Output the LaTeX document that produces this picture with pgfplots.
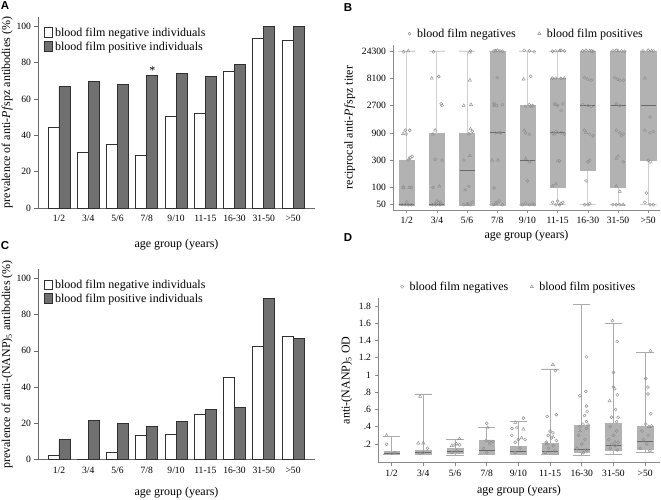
\documentclass[border=0pt]{standalone}
\usepackage{fontspec}
\setmainfont{Liberation Serif}
\newfontfamily\panelfont{Liberation Sans}
\usepackage{pgfplots}
\usepackage{pgfplotstable}
\pgfplotsset{compat=1.18}
\usepgfplotslibrary{statistics}
\definecolor{bargray}{HTML}{707070}
\definecolor{barline}{HTML}{303030}
\definecolor{axgray}{HTML}{6A6A6A}
\definecolor{axgrayB}{HTML}{8A8A8A}
\definecolor{boxgray}{HTML}{B2B2B2}
\definecolor{whiskB}{HTML}{D0D0D0}
\definecolor{whiskD}{HTML}{ABABAB}
\definecolor{medgray}{HTML}{696969}
\definecolor{ptgray}{HTML}{8E8E8E}

\pgfplotstableread{
c neg pos
0 44.3 66.7
1 30.6 69.8
2 34.8 68.1
3 29.1 72.9
4 50.2 73.8
5 52.2 72.5
6 75.1 78.8
7 93.4 100
8 92.1 100
}\dataA

\pgfplotstableread{
c neg pos
0 2.2 11.0
1 0 21.5
2 3.9 20.0
3 13.2 18.2
4 14.0 21.0
5 25.0 27.6
6 45.4 28.7
7 62.3 89.0
8 68.0 66.7
}\dataC

% panel B points (x = category + jitter, y = titer)
\pgfplotstableread{
x y
-0.10 23500
-0.05 1000
0.10 1000
-0.02 860
0.12 330
0.18 350
0.05 300
-0.10 100
0.15 100
-0.15 50
-0.05 50
0.05 50
0.15 50
0.00 56
0.89 23500
1.06 8700
1.14 2900
1.17 2700
0.94 310
1.17 300
0.87 100
0.85 50
0.95 50
1.05 55
1.10 50
1.15 52
1.00 58
2.11 24300
2.17 960
1.89 300
2.06 105
1.89 50
2.11 50
2.17 56
2.02 52
2.89 24300
3.09 24300
3.17 24000
3.00 25000
3.00 8300
2.89 2900
2.98 2700
3.17 2800
2.94 900
3.11 900
2.89 98
2.89 50
3.00 55
3.06 58
3.17 50
3.89 25000
4.06 24300
4.22 23500
4.11 8800
4.06 2800
4.17 2700
3.94 2600
3.94 900
4.06 280
4.00 130
3.83 50
3.94 53
4.06 50
4.17 52
4.22 50
4.83 24000
4.94 24300
5.11 25000
5.22 24300
4.83 8100
4.94 8100
5.11 8100
4.89 2900
5.11 2200
5.17 2900
5.00 2700
4.83 900
4.94 950
5.11 900
5.22 860
5.06 290
4.83 55
4.94 50
5.06 50
5.17 55
5.00 58
5.83 24300
5.94 25000
6.11 24300
6.17 24000
5.89 8300
6.00 7800
6.11 7500
5.83 2800
6.00 2700
6.11 2600
5.89 1000
6.06 860
6.17 800
6.06 300
6.00 280
5.94 130
5.89 50
6.00 50
6.06 52
6.83 24300
6.94 25000
7.11 24300
7.22 24000
6.89 8300
6.98 7800
7.06 7500
7.17 7500
6.94 2900
7.06 2700
6.94 1000
7.06 900
7.11 800
7.17 860
7.17 280
6.83 50
6.94 50
7.06 50
7.83 24300
8.00 25000
8.17 24300
8.06 1700
8.06 900
8.17 950
8.00 300
8.06 280
7.94 80
7.89 55
8.06 50
8.17 50
}\Bneg

\pgfplotstableread{
x y
0.05 24300
-0.12 870
-0.12 100
0.08 100
0.08 320
0.83 8100
0.94 1000
0.87 850
1.08 105
0.94 52
1.11 55
2.09 23000
2.09 7500
1.89 2700
2.13 2800
2.11 1050
2.06 860
2.09 360
1.94 90
2.00 50
2.94 24300
2.89 2700
2.83 300
3.02 300
2.94 52
3.06 900
3.87 7800
4.11 2600
3.89 1000
4.06 850
3.94 320
5.06 24300
5.22 8100
4.94 2800
5.00 900
4.89 850
5.00 290
4.94 115
4.83 105
5.11 52
6.06 24300
5.94 900
7.00 24300
7.00 350
6.94 320
6.94 105
7.06 85
7.17 50
7.89 8100
7.89 1000
8.11 24300
}\Bpos

% panel D points
\pgfplotstableread{
x y
-0.16 0.196
0.00 0.09
0.10 0.10
1.13 0.15
1.00 0.10
0.90 0.09
2.00 0.19
2.14 0.19
2.05 0.12
1.90 0.10
3.00 0.44
2.98 0.24
3.08 0.23
3.19 0.23
3.10 0.20
2.90 0.15
3.00 0.10
4.16 0.50
3.95 0.39
3.80 0.38
3.79 0.30
4.00 0.25
4.21 0.25
3.90 0.22
4.05 0.15
3.90 0.10
5.17 1.05
4.91 0.52
5.20 0.54
5.00 0.35
5.09 0.33
4.94 0.30
5.04 0.27
5.20 0.24
4.88 0.22
5.10 0.18
4.95 0.15
5.15 0.12
4.85 0.10
6.15 1.21
5.94 0.76
6.13 0.81
6.15 0.64
6.17 0.58
6.09 0.53
6.15 0.46
6.04 0.43
6.20 0.42
5.94 0.40
6.15 0.38
5.90 0.30
6.10 0.25
6.00 0.20
5.85 0.15
6.15 0.13
6.05 0.10
6.97 1.63
7.12 1.39
7.00 1.03
7.00 0.86
7.04 0.84
7.12 0.77
7.07 0.60
6.94 0.51
7.15 0.51
7.10 0.46
6.90 0.40
7.10 0.35
7.00 0.30
6.85 0.25
7.15 0.22
6.95 0.20
7.05 0.18
6.90 0.15
7.12 0.13
8.17 1.28
8.02 0.96
8.09 0.86
8.09 0.78
8.18 0.55
8.02 0.43
8.20 0.41
7.90 0.35
8.10 0.30
7.95 0.25
8.05 0.20
7.85 0.15
8.15 0.12
}\Dneg

\pgfplotstableread{
x y
-0.16 0.30
0.90 0.75
0.84 0.21
1.00 0.21
2.14 0.26
1.90 0.18
2.05 0.20
3.03 0.39
3.90 0.45
4.16 0.37
4.10 0.27
5.09 1.12
5.10 0.28
4.90 0.20
5.95 0.35
6.88 0.70
7.05 0.22
8.12 0.40
}\Dpos

\pgfplotsset{
  common/.style={
    scale only axis, anchor=south west, clip=false,
    axis lines*=left,
    axis line style={draw=axgray, line width=0.6pt},
    tick style={draw=axgray, line width=0.6pt},
    tick align=outside, major tick length=3.5pt,
    xtick={0,...,8},
    xticklabels={1/2,3/4,5/6,7/8,9/10,11-15,16-30,31-50,>50},
    ticklabel style={font=\fontsize{9.6}{10}\selectfont},
    label style={font=\fontsize{12}{14}\selectfont},
    /pgf/number format/assume math mode=true,
    xlabel={age group (years)},
  },
  barlegend/.style={
    legend style={at={(0.022,0.955)}, anchor=north west, draw=none, fill=none,
      inner sep=0pt, row sep=0pt, font=\fontsize{12}{13}\selectfont},
    legend cell align=left,
    legend image code/.code={\draw[##1, line width=0.8pt] (0pt,-4.5pt) rectangle (8pt,5pt);},
    ylabel shift=-3pt,
  },
  toplegend/.style={
    legend style={at={(0.5,1.025)}, anchor=south, draw=none, fill=none,
      legend columns=2, inner sep=0pt, font=\fontsize{12}{14}\selectfont,
      /tikz/every odd column/.append style={column sep=4pt},
      /tikz/every even column/.append style={column sep=20pt}},
  },
  bx/.style={forget plot, mark=none, fill=boxgray, draw=boxgray,
    boxplot/box extend=0.5, boxplot/whisker extend=0.55,
    boxplot/every median/.style={draw=medgray, line width=0.9pt}},
  bxB/.style={bx, boxplot/every whisker/.style={draw=whiskB, line width=0.9pt}},
  bxD/.style={bx, boxplot/every whisker/.style={draw=whiskD, line width=0.7pt}},
  negpt/.style={only marks, mark=o, mark size=1.5pt, color=ptgray, mark options={line width=0.45pt}},
  pospt/.style={only marks, mark=triangle, mark size=1.8pt, color=ptgray, mark options={line width=0.45pt}},
}

\begin{document}
\begin{tikzpicture}
\path[use as bounding box] (0,0) rectangle (661pt,499pt);

% ---------------- A ----------------
\begin{axis}[common, barlegend, at={(38pt,291pt)}, width=277pt, height=191pt,
  xmin=-0.717, xmax=8.75, ymin=0, ymax=105, ytick={0,20,...,100},
  xtick style={draw=none}, xlabel style={yshift=-11pt},
  ylabel={prevalence of anti-\textit{Pf}spz antibodies (\%)}]
\addplot[ybar, bar width=11pt, bar shift=-5.5pt, fill=white, draw=barline, line width=0.9pt] table[x=c,y=neg] {\dataA};
\addlegendentry{blood film negative individuals}
\addplot[ybar, bar width=11pt, bar shift=5.5pt, fill=bargray, draw=barline, line width=0.9pt] table[x=c,y=pos] {\dataA};
\addlegendentry{blood film positive individuals}
\node[font=\fontsize{12}{12}\selectfont, inner sep=0pt, anchor=base] at (axis cs:3.19,73.5) {*};
\end{axis}

% ---------------- C ----------------
\begin{axis}[common, barlegend, at={(38pt,39.3pt)}, width=277pt, height=190.5pt,
  xmin=-0.717, xmax=8.75, ymin=0, ymax=105, ytick={0,20,...,100},
  xtick style={draw=none}, xlabel style={yshift=-7pt},
  ylabel={prevalence of anti-(NANP)\textsubscript{5} antibodies (\%)}]
\addplot[ybar, bar width=11pt, bar shift=-5.5pt, fill=white, draw=barline, line width=0.9pt] table[x=c,y=neg] {\dataC};
\addlegendentry{blood film negative individuals}
\addplot[ybar, bar width=11pt, bar shift=5.5pt, fill=bargray, draw=barline, line width=0.9pt] table[x=c,y=pos] {\dataC};
\addlegendentry{blood film positive individuals}
\end{axis}

% ---------------- B ----------------
\begin{axis}[common, toplegend, at={(393pt,289pt)}, width=267pt, height=165pt,
  axis line style={draw=axgrayB, line width=0.6pt},
  tick style={draw=axgrayB, line width=0.6pt},
  xmin=-0.455, xmax=8.39, ymode=log, ymin=40.4, ymax=30900,
  ytick={50,100,300,900,2700,8100,24300},
  yticklabels={50,100,300,900,2700,8100,24300},
  minor ytick={},
  boxplot/draw direction=y,
  ylabel={reciprocal anti-\textit{Pf}spz titer}]
\addplot[bxB, boxplot prepared={draw position=0, lower whisker=50, lower quartile=50, median=50, upper quartile=300, upper whisker=24300}] coordinates {};
\addplot[bxB, boxplot prepared={draw position=1, lower whisker=50, lower quartile=50, median=50, upper quartile=900, upper whisker=24300}] coordinates {};
\addplot[bxB, boxplot prepared={draw position=2, lower whisker=50, lower quartile=50, median=200, upper quartile=900, upper whisker=24300}] coordinates {};
\addplot[bxB, boxplot prepared={draw position=3, lower whisker=50, lower quartile=50, median=900, upper quartile=24300, upper whisker=24300}] coordinates {};
\addplot[bxB, boxplot prepared={draw position=4, lower whisker=50, lower quartile=50, median=300, upper quartile=2700, upper whisker=24300}] coordinates {};
\addplot[bxB, boxplot prepared={draw position=5, lower whisker=50, lower quartile=100, median=900, upper quartile=8100, upper whisker=24300}] coordinates {};
\addplot[bxB, boxplot prepared={draw position=6, lower whisker=50, lower quartile=200, median=2700, upper quartile=24300, upper whisker=24300}] coordinates {};
\addplot[bxB, boxplot prepared={draw position=7, lower whisker=50, lower quartile=100, median=2700, upper quartile=24300, upper whisker=24300}] coordinates {};
\addplot[bxB, boxplot prepared={draw position=8, lower whisker=50, lower quartile=300, median=2700, upper quartile=24300, upper whisker=24300}] coordinates {};
\addplot[negpt] table[x=x,y=y] {\Bneg};
\addlegendentry{blood film negatives}
\addplot[pospt] table[x=x,y=y] {\Bpos};
\addlegendentry{blood film positives}
\end{axis}

% ---------------- D ----------------
\begin{axis}[common, toplegend, at={(378pt,36.3pt)}, width=282pt, height=164.7pt,
  axis line style={draw=axgrayB, line width=0.6pt},
  tick style={draw=axgrayB, line width=0.6pt},
  xmin=-0.43, xmax=8.47, ymin=-0.017, ymax=1.893,
  ytick={0.2,0.4,0.6,0.8,1,1.2,1.4,1.6,1.8},
  yticklabels={.2,.4,.6,.8,1,1.2,1.4,1.6,1.8},
  boxplot/draw direction=y,
  xlabel style={yshift=-2pt},
  ylabel={anti-(NANP)\textsubscript{5} OD}]
\addplot[bxD, boxplot prepared={draw position=0, lower whisker=0.08, lower quartile=0.08, median=0.095, upper quartile=0.12, upper whisker=0.29}] coordinates {};
\addplot[bxD, boxplot prepared={draw position=1, lower whisker=0.08, lower quartile=0.08, median=0.10, upper quartile=0.13, upper whisker=0.78}] coordinates {};
\addplot[bxD, boxplot prepared={draw position=2, lower whisker=0.07, lower quartile=0.09, median=0.11, upper quartile=0.15, upper whisker=0.255}] coordinates {};
\addplot[bxD, boxplot prepared={draw position=3, lower whisker=0.08, lower quartile=0.08, median=0.12, upper quartile=0.24, upper whisker=0.39}] coordinates {};
\addplot[bxD, boxplot prepared={draw position=4, lower whisker=0.08, lower quartile=0.08, median=0.11, upper quartile=0.18, upper whisker=0.46}] coordinates {};
\addplot[bxD, boxplot prepared={draw position=5, lower whisker=0.08, lower quartile=0.09, median=0.115, upper quartile=0.21, upper whisker=1.07}] coordinates {};
\addplot[bxD, boxplot prepared={draw position=6, lower whisker=0.07, lower quartile=0.11, median=0.14, upper quartile=0.42, upper whisker=1.82}] coordinates {};
\addplot[bxD, boxplot prepared={draw position=7, lower whisker=0.08, lower quartile=0.13, median=0.18, upper quartile=0.44, upper whisker=1.60}] coordinates {};
\addplot[bxD, boxplot prepared={draw position=8, lower whisker=0.10, lower quartile=0.14, median=0.23, upper quartile=0.41, upper whisker=1.26}] coordinates {};
\addplot[negpt] table[x=x,y=y] {\Dneg};
\addlegendentry{blood film negatives}
\addplot[pospt] table[x=x,y=y] {\Dpos};
\addlegendentry{blood film positives}
\end{axis}

% panel letters
\node[font=\fontsize{11.5}{12}\selectfont\panelfont\bfseries] at (5pt,493pt) {A};
\node[font=\fontsize{11.5}{12}\selectfont\panelfont\bfseries] at (348pt,491.5pt) {B};
\node[font=\fontsize{11.5}{12}\selectfont\panelfont\bfseries] at (5pt,253pt) {C};
\node[font=\fontsize{11.5}{12}\selectfont\panelfont\bfseries] at (348pt,261.5pt) {D};
\end{tikzpicture}
\end{document}
